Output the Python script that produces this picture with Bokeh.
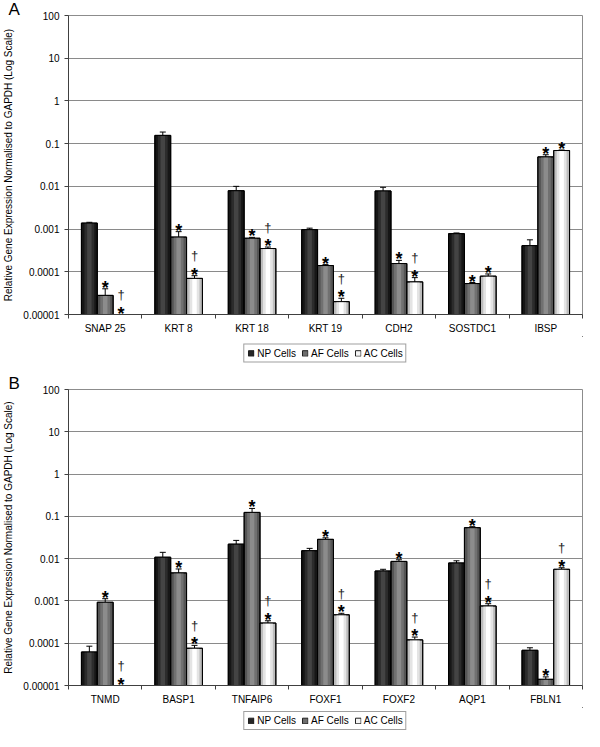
import math
from bokeh.plotting import figure
from bokeh.models import (Range1d, FixedTicker, CustomJSTickFormatter, Whisker, TeeHead,
                          ColumnDataSource, Legend, LegendItem)
from bokeh.layouts import column
from bokeh.embed import file_html
from bokeh.resources import INLINE
from bokeh.core.properties import value

NAN = float("nan")

# ---------------- data ----------------
series_names = ["NP Cells", "AF Cells", "AC Cells"]

cats_a = ["SNAP 25", "KRT 8", "KRT 18", "KRT 19", "CDH2", "SOSTDC1", "IBSP"]
np_a = [0.00138, 0.156, 0.0079, 0.00097, 0.0078, 0.00078, 0.00041]
np_a_err = [0.00006, 0.031, 0.0021, 0.00008, 0.0017, 0.00003, 0.00015]
af_a = [2.8e-5, 6.5e-4, 6.1e-4, 1.4e-4, 1.56e-4, 5.3e-5, 0.049]
af_a_err = [1.2e-5, 2.2e-4, 0.3e-4, 0.07e-4, 0.29e-4, 0.3e-5, 0.006]
ac_a = [NAN, 7.0e-5, 3.5e-4, 2.0e-5, 5.8e-5, 7.9e-5, 0.069]
ac_a_err = [NAN, 1.1e-5, 0.3e-4, 0.4e-5, 1.5e-5, 1.0e-5, 0.002]
af_a_sig = ["*", "*", "*", "*", "*", "*", "*"]
ac_a_sig = ["†*", "†*", "†*", "†*", "†*", "*", "*"]

cats_b = ["TNMD", "BASP1", "TNFAIP6", "FOXF1", "FOXF2", "AQP1", "FBLN1"]
np_b = [6.2e-5, 0.0108, 0.022, 0.0154, 0.0051, 0.0079, 6.8e-5]
np_b_err = [2.3e-5, 0.0033, 0.005, 0.0021, 0.0005, 0.001, 1.0e-5]
af_b = [9.3e-4, 0.0046, 0.124, 0.0286, 0.0086, 0.054, 1.4e-5]
af_b_err = [2.0e-4, 0.0011, 0.03, 0.0025, 0.0008, 0.003, 0.2e-5]
ac_b = [NAN, 7.6e-5, 3.0e-4, 4.7e-4, 1.2e-4, 7.6e-4, 0.0056]
ac_b_err = [NAN, 1.3e-5, 0.4e-4, 0.4e-4, 0.2e-4, 0.1e-3, 0.0005]
af_b_sig = ["*", "*", "*", "*", "*", "*", "*"]
ac_b_sig = ["†*", "†*", "†*", "†*", "†*", "†*", "†*"]

y_ticks = [1e-5, 1e-4, 1e-3, 1e-2, 1e-1, 1, 10, 100]
y_tick_labels = ["0.00001", "0.0001", "0.001", "0.01", "0.1", "1", "10", "100"]
y_label = "Relative Gene Expression Normalised to GAPDH (Log Scale)"

FONT = "Liberation Sans"
shades = [("#161616", "#2c2c2c", "#444444"),
          ("#555555", "#717171", "#8c8c8c"),
          ("#bdbdbd", "#e4e4e4", "#ffffff")]
legend_swatch = ["#262626", "#6e6e6e", "#f4f4f4"]
AXIS_COL = "#404040"
BW = 0.216
W = 584


def ok(v):
    return not (isinstance(v, float) and math.isnan(v))


def panel(letter, cats, vals, errs, sigs, height, top, bottom):
    n = len(cats)
    y_min = y_ticks[0]
    p = figure(width=W, height=height, x_range=Range1d(0, n),
               y_range=Range1d(y_min, y_ticks[-1]), y_axis_type="log",
               output_backend="svg", toolbar_location=None,
               min_border_left=64, min_border_right=2,
               min_border_top=top, min_border_bottom=bottom)
    p.outline_line_color = "#8c8c8c"
    p.background_fill_color = "white"
    p.border_fill_color = "white"

    p.title.text = letter
    p.title.align = "left"
    p.title.offset = -60
    p.title.standoff = -6
    p.title.text_font = FONT
    p.title.text_font_size = "17px"
    p.title.text_font_style = "normal"
    p.title.text_color = "black"

    xa = p.xaxis[0]
    xa.ticker = FixedTicker(ticks=[i + 0.5 for i in range(n)],
                            minor_ticks=[float(i) for i in range(n + 1)])
    xa.formatter = CustomJSTickFormatter(args=dict(cats=cats),
                                         code="return cats[Math.floor(tick)] || '';")
    xa.major_tick_line_color = None
    xa.major_tick_out = 0
    xa.major_tick_in = 0
    xa.minor_tick_out = 4
    xa.minor_tick_in = 0
    xa.minor_tick_line_color = AXIS_COL
    xa.axis_line_color = AXIS_COL
    xa.major_label_standoff = 4
    xa.major_label_text_font = FONT
    xa.major_label_text_font_size = "10px"
    xa.major_label_text_color = "black"

    ya = p.yaxis[0]
    ya.ticker = FixedTicker(ticks=y_ticks, minor_ticks=[])
    ya.formatter = CustomJSTickFormatter(
        args=dict(vals=y_ticks, labs=y_tick_labels),
        code="for (let i = 0; i < vals.length; i++) {"
             " if (Math.abs(Math.log10(tick) - Math.log10(vals[i])) < 1e-6) return labs[i]; }"
             " return '';")
    ya.major_tick_out = 4
    ya.major_tick_in = 0
    ya.minor_tick_line_color = None
    ya.major_tick_line_color = AXIS_COL
    ya.axis_line_color = AXIS_COL
    ya.major_label_standoff = 5
    ya.major_label_text_font = FONT
    ya.major_label_text_font_size = "10px"
    ya.major_label_text_color = "black"
    ya.axis_label = y_label
    ya.axis_label_text_font = FONT
    ya.axis_label_text_font_size = "10px"
    ya.axis_label_text_font_style = "normal"
    ya.axis_label_text_color = "black"
    ya.axis_label_standoff = 6

    p.xgrid.visible = False
    p.ygrid.ticker = FixedTicker(ticks=y_ticks, minor_ticks=[])
    p.ygrid.grid_line_color = "#8a8a8a"
    p.ygrid.grid_line_width = 1

    offsets = [-BW, 0.0, BW]
    for s in range(3):
        xs, tops, ups, lows = [], [], [], []
        for i in range(n):
            v, e = vals[s][i], errs[s][i]
            if ok(v):
                xs.append(i + 0.5 + offsets[s])
                tops.append(v)
                ups.append(v + e)
                lows.append(v - e)
        src = ColumnDataSource(dict(x=xs, top=tops, upper=ups, lower=lows))
        edge, mid, light = shades[s]
        p.vbar(x="x", top="top", bottom=1e-7, width=BW, source=src,
               fill_color=edge, line_color="black", line_width=1)
        p.vbar(x="x", top="top", bottom=1e-7, width=BW * 0.62, source=src,
               fill_color=mid, line_color=None)
        p.vbar(x="x", top="top", bottom=1e-7, width=BW * 0.28, source=src,
               fill_color=light, line_color=None)
        p.vbar(x="x", top="top", bottom=1e-7, width=BW, source=src,
               fill_color=None, line_color="black", line_width=1)
        p.add_layout(Whisker(source=src, base="x", upper="upper", lower="lower",
                             line_color="black", line_width=1,
                             upper_head=TeeHead(size=6, line_color="black", line_width=1),
                             lower_head=TeeHead(size=6, line_color="black", line_width=1)))

    star_x, star_y, dag_x, dag_y = [], [], [], []
    for s, sig in ((1, sigs[0]), (2, sigs[1])):
        for i in range(n):
            v, e = vals[s][i], errs[s][i]
            yb = v + e if ok(v) else y_min
            if "*" in sig[i]:
                star_x.append(i + 0.5 + offsets[s])
                star_y.append(yb)
            if "†" in sig[i]:
                dag_x.append(i + 0.5 + offsets[s])
                dag_y.append(yb)
    p.text(x=star_x, y=star_y, text=["*"] * len(star_x), text_font=value(FONT),
           text_font_size="18px", text_font_style="bold", text_align="center",
           text_baseline="alphabetic", y_offset=-1, text_color="black")
    p.text(x=dag_x, y=dag_y, text=["†"] * len(dag_x), text_font=value(FONT),
           text_font_size="13px", text_align="center",
           text_baseline="alphabetic", y_offset=-20, text_color="#222222")
    return p


def legend_strip(height, loc):
    q = figure(width=W, height=height, x_range=Range1d(0, 1), y_range=Range1d(0, 1),
               output_backend="svg", toolbar_location=None,
               x_axis_location=None, y_axis_location=None,
               min_border_left=64, min_border_right=2,
               min_border_top=0, min_border_bottom=0)
    q.outline_line_color = None
    q.xgrid.visible = False
    q.ygrid.visible = False
    items = []
    for s in range(3):
        # placeholder glyph outside the visible range: only its legend swatch shows
        r = q.vbar(x=[5.0], top=[5.0], bottom=[4.0], width=0.1,
                   fill_color=legend_swatch[s], line_color="#202020", line_width=1)
        items.append(LegendItem(label=series_names[s], renderers=[r]))
    leg = Legend(items=items, orientation="horizontal", location=loc,
                 glyph_width=7, glyph_height=7, label_height=10,
                 label_text_font=FONT, label_text_font_size="10px",
                 label_text_color="black", label_standoff=3, spacing=5,
                 padding=3, margin=1, border_line_color=AXIS_COL,
                 border_line_width=1, background_fill_color="white",
                 background_fill_alpha=1.0)
    q.add_layout(leg, "center")
    return q


pa = panel("A", cats_a, [np_a, af_a, ac_a], [np_a_err, af_a_err, ac_a_err],
           [af_a_sig, ac_a_sig], height=336, top=15, bottom=21)
la = legend_strip(34, "center")
pb = panel("B", cats_b, [np_b, af_b, ac_b], [np_b_err, af_b_err, ac_b_err],
           [af_b_sig, ac_b_sig], height=337, top=19, bottom=21)
lb = legend_strip(24, "bottom_center")

layout = column(pa, la, pb, lb, spacing=0)
open("out.html", "w").write(file_html(layout, INLINE))
